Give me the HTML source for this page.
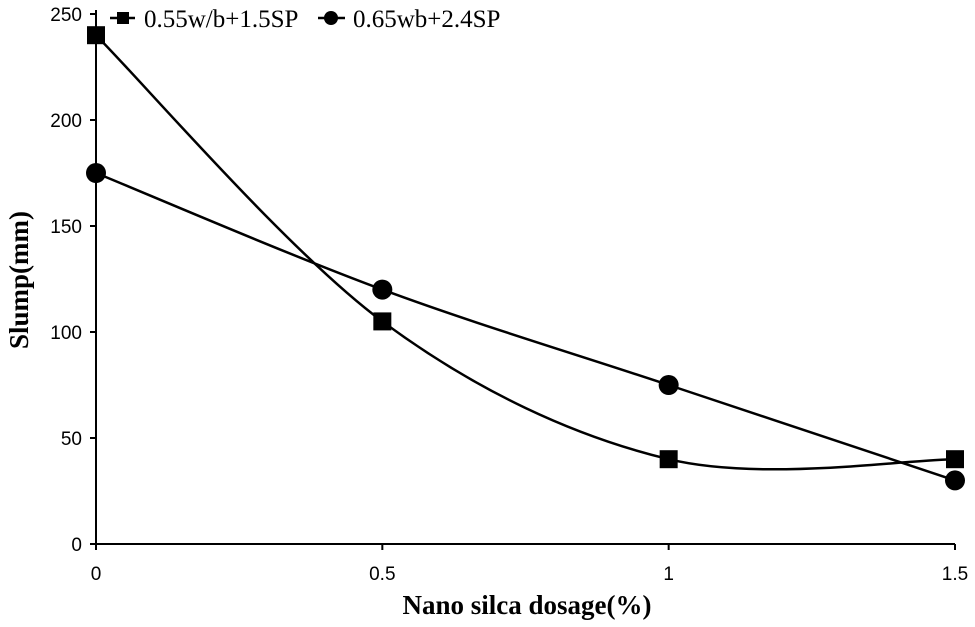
<!DOCTYPE html>
<html><head><meta charset="utf-8">
<style>body{margin:0;background:#fff}svg{display:block}</style></head>
<body>
<svg id="chart" width="975" height="627" xmlns="http://www.w3.org/2000/svg"></svg>
<script>
const categories = [0, 0.5, 1, 1.5];
const seriesA = [240, 105, 40, 40];
const seriesB = [175, 120, 75, 30];
const yTicks = [0, 50, 100, 150, 200, 250];
const xTickLabels = ["0", "0.5", "1", "1.5"];

const NS = "http://www.w3.org/2000/svg";
const svg = document.getElementById("chart");
const X0 = 96, X1 = 955, Y0 = 544, Y1 = 14;
function xs(v){ return X0 + (v - 0) / 1.5 * (X1 - X0); }
function ys(v){ return Y0 - v / 250 * (Y0 - Y1); }
function mk(tag, attrs, parent){ const e = document.createElementNS(NS, tag); for (const k in attrs) e.setAttribute(k, attrs[k]); (parent||svg).appendChild(e); return e; }

const axes = mk("g", {stroke:"#000","stroke-width":2,fill:"none"});


mk("line",{x1:X0,y1:Y1-4,x2:X0,y2:Y0},axes);
mk("line",{x1:X0,y1:Y0,x2:X1,y2:Y0},axes);
yTicks.forEach(t=>{
  mk("line",{x1:X0-6,y1:ys(t),x2:X0,y2:ys(t)},axes);
  const tx = mk("text",{x:X0-14,y:ys(t)+7,"text-anchor":"end","font-family":"Liberation Sans, sans-serif","font-size":19,fill:"#000"});
  tx.textContent = t;
  
  
});
categories.forEach((c,i)=>{
  mk("line",{x1:xs(c),y1:Y0,x2:xs(c),y2:Y0+6},axes);
  const tx = mk("text",{x:xs(c),y:Y0+36,"text-anchor":"middle","font-family":"Liberation Sans, sans-serif","font-size":19,fill:"#000"});
  tx.textContent = xTickLabels[i];
  
  
});
const xt = mk("text",{x:527,y:614,"text-anchor":"middle","font-family":"Liberation Serif, serif","font-size":27,"font-weight":"bold"});
xt.textContent = "Nano silca dosage(%)";


const yt = mk("text",{x:0,y:0,"text-anchor":"middle","font-family":"Liberation Serif, serif","font-size":27,"font-weight":"bold",transform:"translate(28,280) rotate(-90)"});
yt.textContent = "Slump(mm)";



function smoothPath(pts){
  let d = `M${pts[0][0]},${pts[0][1]}`;
  for (let i=0;i<pts.length-1;i++){
    const p0 = pts[Math.max(0,i-1)], p1 = pts[i], p2 = pts[i+1], p3 = pts[Math.min(pts.length-1,i+2)];
    const k = 0.165;
    const c1 = [p1[0]+(p2[0]-p0[0])*k, p1[1]+(p2[1]-p0[1])*k];
    const c2 = [p2[0]-(p3[0]-p1[0])*k, p2[1]-(p3[1]-p1[1])*k];
    d += ` C${c1[0]},${c1[1]} ${c2[0]},${c2[1]} ${p2[0]},${p2[1]}`;
  }
  return d;
}
function drawSeries(vals, name, shape){
  const g = mk("g",{});
  
  
  const pts = vals.map((v,i)=>[xs(categories[i]), ys(v)]);
  mk("path",{d:smoothPath(pts),fill:"none",stroke:"#000","stroke-width":2.5},g);
  pts.forEach(p=>{
    let m;
    if (shape==="square") m = mk("rect",{x:p[0]-9,y:p[1]-9,width:18,height:18,fill:"#000"},g);
    else m = mk("circle",{cx:p[0],cy:p[1],r:10,fill:"#000"},g);
    
    
  });
}
drawSeries(seriesA, "series-0.55wb", "square");
drawSeries(seriesB, "series-0.65wb", "circle");

const lg = mk("g",{});


mk("line",{x1:110,y1:18,x2:135,y2:18,stroke:"#000","stroke-width":2.5},lg);
mk("rect",{x:117,y:12,width:12,height:12,fill:"#000"},lg);
const l1 = mk("text",{x:144,y:27,"font-family":"Liberation Serif, serif","font-size":25},lg);
l1.textContent = "0.55w/b+1.5SP";


mk("line",{x1:318,y1:18,x2:345,y2:18,stroke:"#000","stroke-width":2.5},lg);
mk("circle",{cx:331,cy:18,r:7,fill:"#000"},lg);
const l2 = mk("text",{x:353,y:27,"font-family":"Liberation Serif, serif","font-size":25},lg);
l2.textContent = "0.65wb+2.4SP";


</script>
</body></html>
